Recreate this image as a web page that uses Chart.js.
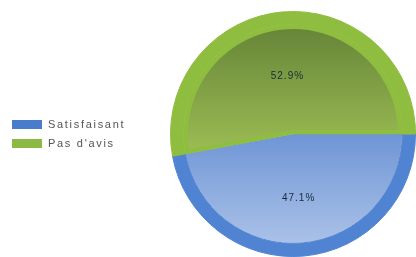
<!DOCTYPE html>
<html>
<head>
<meta charset="utf-8">
<script src="https://cdn.jsdelivr.net/npm/chart.js@4"></script>
<style>
  html, body { margin: 0; padding: 0; background: #fff; }
  #wrap { position: relative; width: 416px; height: 257px; overflow: hidden; }
  #pie_chart { position: absolute; left: 0; top: 0; }
  #legend { position: absolute; left: 12px; top: 119px; font-family: "Liberation Sans", Arial, sans-serif; font-size: 11px; letter-spacing: 1.7px; color: #555; }
  .item { height: 19px; line-height: 11px; white-space: nowrap; }
  .box { display: inline-block; width: 30px; height: 9px; vertical-align: top; margin-right: 6px; margin-top: 1px; }
</style>
</head>
<body>
<div id="wrap">
  <canvas id="pie_chart" width="416" height="257"></canvas>
  <div id="legend"></div>
</div>
<script>
var labels = ["Satisfaisant", "Pas d'avis"];
var values = [47.1, 52.9];
var rimColors = ["#5084d2", "#8fbd40"];
var legendColors = ["#4a7ccc", "#8cb844"];

function innerFill(context) {
  var chart = context.chart;
  var area = chart.chartArea;
  if (!area) return rimColors[context.dataIndex];
  var ctx = chart.ctx;
  var mid = (area.top + area.bottom) / 2;
  var g;
  if (context.dataIndex == 0) {
    g = ctx.createLinearGradient(0, mid, 0, area.bottom);
    g.addColorStop(0, "#6f95d6");
    g.addColorStop(1, "#b2c7ea");
  } else {
    g = ctx.createLinearGradient(0, area.top, 0, mid + 20);
    g.addColorStop(0, "#5f7e34");
    g.addColorStop(1, "#9dbd55");
  }
  return g;
}

var pctLabels = {
  id: "pctLabels",
  afterDatasetsDraw: function(chart) {
    var ctx = chart.ctx;
    var meta = chart.getDatasetMeta(1);
    ctx.save();
    ctx.font = "10px 'Liberation Sans', Arial, sans-serif";
    ctx.fillStyle = "#1a2a3a";
    ctx.textAlign = "center";
    ctx.textBaseline = "middle";
    if (ctx.letterSpacing !== undefined) ctx.letterSpacing = "1px";
    meta.data.forEach(function(arc, i) {
      var mid = (arc.startAngle + arc.endAngle) / 2;
      var r = chart.chartArea.width / 2 * 0.5;
      var x = arc.x + Math.cos(mid) * r;
      var y = arc.y + Math.sin(mid) * r + 3;
      ctx.fillText(values[i].toFixed(1) + "%", x, y);
    });
    ctx.restore();
  }
};

var ctx = document.getElementById("pie_chart").getContext("2d");
var pieChart = new Chart(ctx, {
  type: "doughnut",
  data: {
    labels: labels,
    datasets: [{
      data: values,
      backgroundColor: rimColors,
      borderColor: rimColors,
      borderWidth: 1,
      weight: 0.12
    }, {
      data: values,
      backgroundColor: innerFill,
      borderColor: ["rgba(0,0,0,0)", "#8fbd40"],
      borderWidth: [0, 4],
      borderAlign: "inner",
      weight: 1
    }]
  },
  options: {
    responsive: false,
    animation: false,
    cutout: 0,
    rotation: 90,
    layout: { padding: { left: 170, top: 11, right: 0, bottom: 0 } },
    plugins: {
      legend: { display: false },
      tooltip: { enabled: false }
    }
  },
  plugins: [pctLabels]
});

var legendDiv = document.getElementById("legend");
labels.forEach(function(name, i) {
  var item = document.createElement("div");
  item.className = "item";
  item.innerHTML = "<span class='box' style='background:" + legendColors[i] + "'></span>" + name;
  legendDiv.appendChild(item);
});
</script>
</body>
</html>
